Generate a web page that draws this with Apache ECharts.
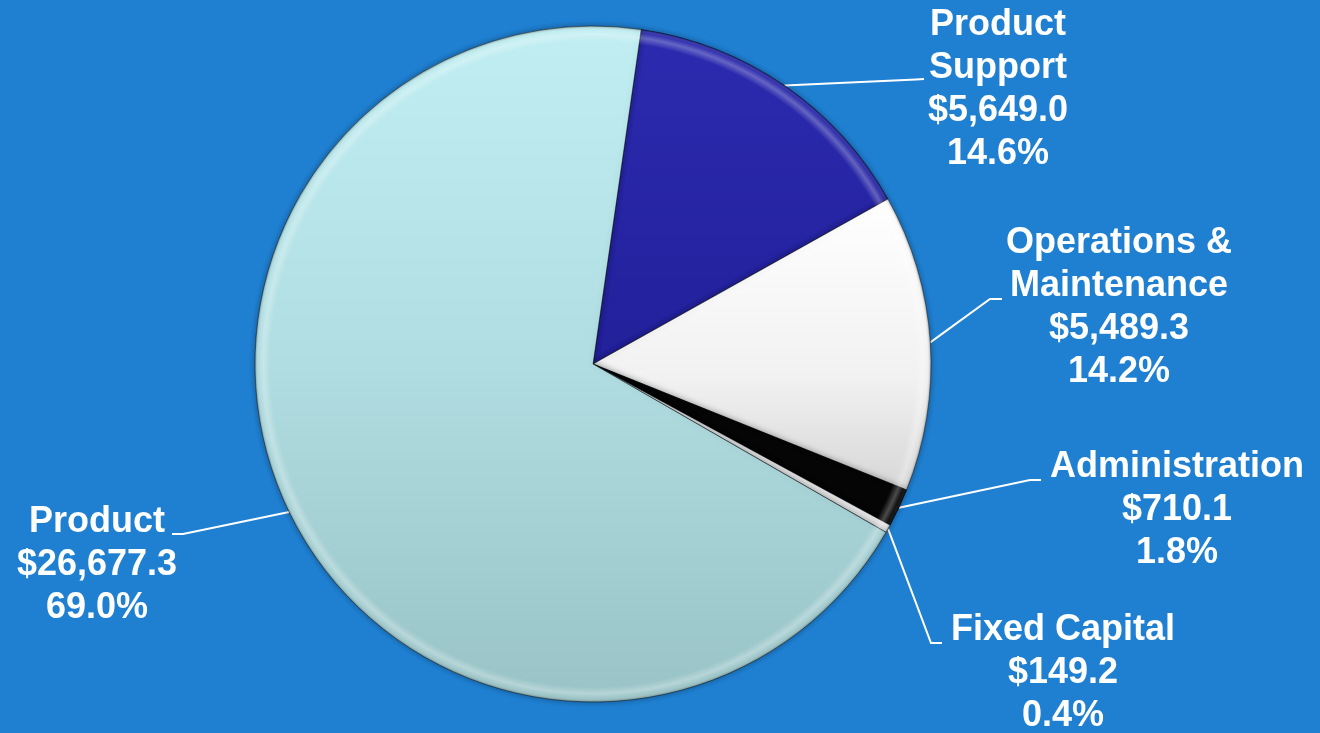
<!DOCTYPE html>
<html>
<head>
<meta charset="utf-8">
<title>Cost Breakdown</title>
<script src="https://cdn.jsdelivr.net/npm/echarts@6/dist/echarts.min.js"></script>
<style>
  html, body { margin: 0; padding: 0; background: #1f80d2; }
  #chart { width: 1320px; height: 733px; }
</style>
</head>
<body>
<div id="chart"></div>
<script>
// Cost categories (clockwise from the top) and their amounts
const categories = ['Product\nSupport', 'Operations &\nMaintenance', 'Administration', 'Fixed Capital', 'Product'];
const values = [5649.0, 5489.3, 710.1, 149.2, 26677.3];

// Pie geometry
const CX = 593, CY = 364, R = 338;

// Slice fills
const sliceFills = [
  { type: 'linear', x: 0, y: 26, x2: 0, y2: 364, global: true,
    colorStops: [{ offset: 0, color: '#2c2bb0' }, { offset: 1, color: '#22209a' }] },
  { type: 'linear', x: 0, y: 195, x2: 0, y2: 500, global: true,
    colorStops: [{ offset: 0, color: '#ffffff' }, { offset: 0.6, color: '#f1f1f1' }, { offset: 1, color: '#d4d4d4' }] },
  '#050505',
  '#e6e6e6',
  { type: 'linear', x: 0, y: 26, x2: 0, y2: 702, global: true,
    colorStops: [{ offset: 0, color: '#c0eef2' }, { offset: 0.5, color: '#b0dde1' }, { offset: 1, color: '#99c3c6' }] }
];

// Where each label block sits and how its leader line bends
const labelSpots = [
  { x: 998,  y: 90,  bend: [916, 79.5], end: [924, 79] },
  { x: 1119, y: 308, bend: [990, 299],  end: [1002, 299] },
  { x: 1177, y: 510, bend: [1030, 480], end: [1041, 480] },
  { x: 1063, y: 673, bend: [931, 643],  end: [942, 643] },
  { x: 97,   y: 565, bend: [183, 534],  end: [172, 534] }
];

function money(v) {
  return '$' + v.toLocaleString('en-US', { minimumFractionDigits: 1, maximumFractionDigits: 1 });
}

const pieData = categories.map((name, i) => ({
  name: name,
  value: values[i],
  itemStyle: { color: sliceFills[i] }
}));

const chart = echarts.init(document.getElementById('chart'), null, { renderer: 'canvas' });

chart.setOption({
  backgroundColor: '#1f80d2',
  animation: false,
  series: [
    {
      type: 'pie',
      center: [CX, CY],
      radius: R,
      startAngle: 81.8,
      clockwise: true,
      avoidLabelOverlap: false,
      percentPrecision: 1,
      emphasis: { disabled: true },
      itemStyle: {
        borderColor: 'rgba(0,0,0,0.45)',
        borderWidth: 1,
        shadowBlur: 6,
        shadowColor: 'rgba(0,0,0,0.35)'
      },
      label: {
        show: true,
        position: 'outside',
        color: '#ffffff',
        fontFamily: '"Liberation Sans", Arial, sans-serif',
        fontWeight: 'bold',
        fontSize: 36,
        lineHeight: 43,
        align: 'center',
        formatter: p => p.name + '\n' + money(p.value) + '\n' + p.percent.toFixed(1) + '%'
      },
      labelLine: {
        show: true,
        length: 20,
        length2: 20,
        lineStyle: { color: '#ffffff', width: 2 }
      },
      labelLayout: function (params) {
        const s = labelSpots[params.dataIndex];
        const out = { x: s.x, y: s.y, align: 'center', verticalAlign: 'middle' };
        if (params.labelLinePoints) {
          out.labelLinePoints = [params.labelLinePoints[0], s.bend, s.end];
        }
        return out;
      },
      data: pieData
    },
    {
      // bevelled rim drawn over the same slices
      type: 'pie',
      silent: true,
      center: [CX, CY],
      radius: R,
      startAngle: 81.8,
      clockwise: true,
      emphasis: { disabled: true },
      label: { show: false },
      labelLine: { show: false },
      itemStyle: {
        color: {
          type: 'radial', x: CX, y: CY, r: R, global: true,
          colorStops: [
            { offset: 0, color: 'rgba(255,255,255,0)' },
            { offset: 0.955, color: 'rgba(255,255,255,0)' },
            { offset: 0.975, color: 'rgba(255,255,255,0.28)' },
            { offset: 0.99, color: 'rgba(255,255,255,0.05)' },
            { offset: 1, color: 'rgba(0,0,0,0.3)' }
          ]
        }
      },
      data: categories.map((name, i) => ({ name: name, value: values[i] }))
    }
  ]
});
</script>
</body>
</html>
